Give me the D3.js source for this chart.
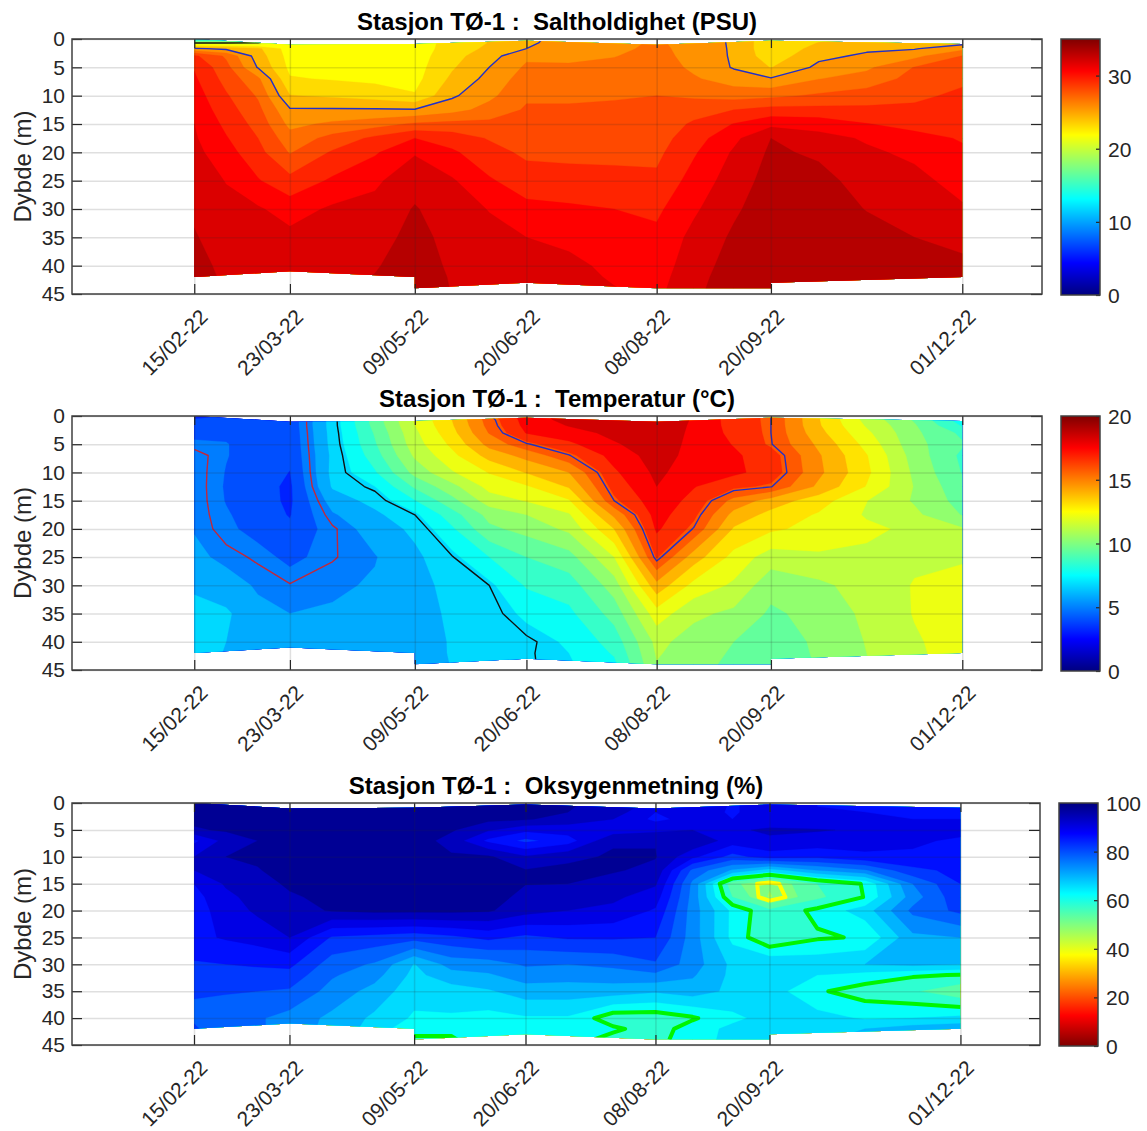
<!DOCTYPE html>
<html>
<head>
<meta charset="utf-8">
<style>
body { margin: 0; background: #fff; }
text { font-family: "Liberation Sans", Arial, sans-serif; fill: #262626; }
.title { font-weight: bold; fill: #000; white-space: pre; }
.grid line { stroke: #262626; stroke-opacity: 0.15; stroke-width: 1.5; }
.ticks line { stroke: #262626; stroke-width: 1.2; }
.box { fill: none; stroke: #404040; stroke-width: 1.5; }
</style>
<script src="https://cdn.jsdelivr.net/npm/d3@7"></script>
</head>
<body>
<script>
var parseDate = d3.timeParse("%d/%m-%y");

//dates on the x axis
var stationLabels = ["15/02-22", "23/03-22", "09/05-22", "20/06-22", "08/08-22", "20/09-22", "01/12-22"];

var sampleDates = ["15/02-22", "27/02-22", "11/03-22", "23/03-22", "08/04-22", "24/04-22", "09/05-22", "23/05-22", "06/06-22", "20/06-22",
    "06/07-22", "23/07-22", "08/08-22", "22/08-22", "06/09-22", "20/09-22", "08/10-22", "26/10-22", "13/11-22", "01/12-22"];

//rows of the value tables
var depths = [0, 0.7, 1.7, 3, 5, 7, 10, 12.5, 15, 17.5, 20, 25, 30, 35, 40, 42, 44];
var oxygenDepths = [0, 0.7, 1.7, 3, 5, 7, 10, 12.5, 15, 17.5, 20, 25, 30, 32, 35, 40, 42, 44];

//outline of the sampled water column, the bottom steps at two of the stations
var outlineDates = ["15/02-22", "23/03-22", "09/05-22", "09/05-22", "20/06-22", "08/08-22", "20/09-22", "20/09-22", "01/12-22"];
var outlineTop = [0, 1, 0.9, 0.9, 0.3, 1, 0.3, 0.3, 0.9];
var outlineBottom = [42, 41, 42, 44, 43, 44, 44, 43, 42];

//one row per sample date, one value per depth
var salinity = [
    [11, 20, 25.2, 29, 29.9, 30.2, 30.6, 30.9, 31.25, 31.4, 31.6, 31.95, 32.3, 32.6, 32.9, 33, 33],
    [12, 20, 24.7, 27.3, 27.9, 28.3, 28.9, 29.3, 29.7, 30.1, 30.5, 31.2, 31.6, 31.9, 32.2, 32.3, 32.4],
    [14.5, 20.1, 24, 24.4, 24.9, 26.5, 27.35, 27.85, 28.3, 28.75, 29.15, 30.1, 31.4, 31.8, 32.1, 32.2, 32.3],
    [21.8, 21.8, 21.9, 22, 22.2, 22.6, 23.8, 25.15, 25.9, 26.75, 27.4, 29.15, 30.7, 31.6, 32, 32.1, 32.2],
    [21.7, 21.7, 21.7, 21.8, 22.1, 22.4, 23.55, 25.15, 26.5, 27.9, 28.9, 30.2, 31.45, 31.8, 32.1, 32.2, 32.3],
    [21.7, 21.7, 21.7, 21.7, 21.9, 22.2, 23.2, 25.15, 26.95, 29.05, 29.85, 31.05, 31.6, 32, 32.4, 32.55, 32.7],
    [21.8, 21.8, 21.8, 21.9, 22, 22.1, 22.6, 25.1, 27.7, 30, 31.15, 32, 32.6, 32.9, 33.1, 33.15, 33.2],
    [23, 23, 23.1, 23.3, 23.6, 24, 24.8, 25.8, 27.9, 29.4, 30.2, 31.4, 31.8, 32.1, 32.3, 32.4, 32.45],
    [23.8, 23.8, 24, 24.5, 25, 25.4, 25.95, 26.7, 27.85, 28.65, 29.2, 30.15, 31.2, 31.6, 31.9, 32, 32.1],
    [24.7, 24.8, 25, 26, 26.45, 26.85, 27.3, 27.65, 28, 28.25, 28.5, 29.35, 30.35, 31.25, 31.6, 31.75, 31.9],
    [25.5, 25.5, 25.7, 26, 26.4, 26.8, 27.3, 27.65, 27.95, 28.2, 28.45, 29.2, 30.2, 30.9, 31.6, 31.7, 31.8],
    [25.6, 25.7, 25.9, 26.2, 26.6, 26.9, 27.4, 27.7, 27.95, 28.2, 28.45, 29.1, 30, 30.4, 30.9, 31.1, 31.3],
    [26.4, 26.5, 26.6, 26.7, 26.9, 27.15, 27.5, 27.75, 27.95, 28.2, 28.45, 29, 29.75, 30.3, 30.6, 30.75, 30.9],
    [25.6, 25.6, 25.7, 25.8, 26, 26.4, 27.3, 28.2, 28.95, 29.45, 29.85, 30.5, 31.05, 31.6, 31.95, 32.1, 32.2],
    [24.85, 24.85, 24.85, 24.85, 24.9, 25.6, 27, 28.75, 30.05, 30.95, 31.4, 31.85, 32.3, 32.7, 33, 33.1, 33.2],
    [22.8, 22.8, 22.8, 23, 23.7, 25.1, 27.2, 29.2, 30.9, 32.5, 32.7, 33, 33.2, 33.4, 33.5, 33.55, 33.6],
    [23.5, 23.8, 24.2, 24.7, 25.3, 26.2, 27.7, 29.15, 30.7, 31.7, 32.3, 32.9, 33.2, 33.4, 33.5, 33.55, 33.6],
    [24, 24.2, 24.8, 25.2, 26, 26.8, 28.05, 29.05, 30.05, 31.1, 31.45, 32, 32.45, 33, 33.3, 33.4, 33.5],
    [24.2, 24.4, 24.9, 25.9, 27.55, 27.9, 28.5, 29, 29.6, 30.4, 31, 31.6, 32, 32.5, 32.9, 33.05, 33.2],
    [24.2, 24.6, 25.9, 27.55, 28.05, 28.5, 29, 29.3, 29.6, 29.9, 30.2, 30.8, 31.4, 32.1, 32.8, 33, 33.1]
];

var temperature = [
    [3.3, 3.7, 3.9, 4.2, 4.7, 5.35, 5.36, 5.37, 5.37, 5.36, 5.35, 5.6, 6.2, 6.5, 6.6, 6.65, 6.7],
    [3.6, 3.9, 4.1, 4.3, 4.55, 4.55, 4.45, 4.4, 4.45, 4.6, 4.75, 5.2, 5.75, 6.45, 6.3, 6.25, 6.2],
    [3.6, 3.7, 3.8, 3.9, 4, 4, 3.95, 3.9, 3.95, 4, 4.1, 4.9, 5.3, 5.6, 5.9, 5.95, 6],
    [3.9, 3.9, 3.9, 3.85, 3.8, 3.75, 3.58, 3.45, 3.45, 3.55, 3.75, 4.2, 5.05, 5.4, 5.7, 5.75, 5.8],
    [6.7, 6.7, 6.7, 6.65, 6.6, 6.5, 6.55, 6.4, 5.8, 5.3, 4.9, 4.95, 5.25, 5.5, 5.65, 5.7, 5.7],
    [9.4, 9.4, 9.3, 9.1, 8.9, 8.6, 8, 7.2, 6.6, 6.1, 5.8, 5.35, 5.5, 5.6, 5.7, 5.75, 5.75],
    [11.8, 11.8, 11.7, 11.5, 11.3, 10.95, 10.2, 9.15, 8.05, 7, 6.5, 6.1, 5.9, 5.8, 5.7, 5.65, 5.6],
    [13.5, 13.5, 13.4, 13.2, 12.8, 12.35, 11.6, 10.5, 9.6, 8.6, 7.95, 6.95, 6.65, 6.5, 6.4, 6.4, 6.35],
    [15.9, 15.7, 15.6, 15.35, 14.7, 13.85, 12.65, 12, 11.25, 10.2, 9.7, 8.1, 7, 6.8, 6.75, 6.7, 6.7],
    [17.6, 17.5, 17.4, 17.15, 15.9, 14.7, 13.55, 12.5, 11.75, 10.8, 10.2, 9, 8.2, 7.35, 6.9, 6.95, 6.97],
    [18.4, 18.3, 18.05, 17.6, 16.9, 15.95, 14.4, 13.6, 12.5, 11.6, 11, 9.55, 8.55, 7.9, 7.3, 7.2, 7.1],
    [18.7, 18.6, 18.5, 18.25, 17.9, 17.45, 16.95, 16.55, 16, 14.6, 13.5, 11.7, 10.35, 9.35, 8.5, 8.2, 7.9],
    [18.7, 18.7, 18.65, 18.6, 18.5, 18.4, 18.2, 18, 17.7, 17.5, 17.25, 16.3, 14.1, 12.2, 11.05, 10.9, 10.75],
    [17.9, 17.9, 17.85, 17.8, 17.75, 17.7, 17.5, 17.15, 16.8, 16.4, 15.95, 13.95, 12.3, 11, 10.4, 10.3, 10.2],
    [16.7, 16.7, 16.75, 16.85, 17.05, 17.25, 17.3, 16.4, 15, 14.1, 13.4, 12.3, 11.55, 10.6, 9.9, 9.8, 9.7],
    [16, 16, 16, 16, 16.05, 16.6, 16.7, 16.05, 14, 13.2, 12.75, 11.25, 10.2, 9.75, 9.6, 9.55, 9.5],
    [13.55, 13.55, 13.6, 13.8, 14.2, 14.5, 14.6, 14.2, 13, 12.5, 12.3, 11.55, 10.6, 10.2, 10, 9.98, 9.95],
    [11.3, 11.4, 11.6, 11.9, 12.3, 12.65, 12.8, 12.55, 11.72, 11.6, 11.9, 11.5, 11.2, 11, 10.85, 10.8, 10.75],
    [9.7, 9.8, 10, 10.1, 10.2, 10.4, 10.6, 10.75, 10.7, 11, 11.5, 11.55, 11.75, 11.75, 11.6, 11.55, 11.5],
    [7.6, 7.6, 8, 8.8, 9.1, 8.8, 8.95, 9.25, 9.55, 9.85, 10.9, 11.65, 11.85, 12, 12.1, 12.1, 12.1]
];

var oxygen = [
    [97, 97, 97, 97, 95.5, 87, 92, 92, 88, 86.5, 86, 87, 83.5, 82, 80.2, 79.5, 80.5, 81.5],
    [97, 97, 97, 97, 96.5, 93.5, 96, 94, 92.5, 91, 90, 88.4, 84, 82.5, 80.5, 76.5, 77.5, 79],
    [97, 97, 97, 97, 96.5, 96, 96.5, 95.8, 94.5, 93.5, 92.7, 89.6, 84.5, 82.5, 80, 76.5, 76.5, 77],
    [97.5, 97.5, 97.5, 97.5, 97.5, 97.5, 97.5, 97.3, 96.6, 95.5, 94.5, 92, 85, 82.5, 79.5, 74.5, 74.5, 74.5],
    [98, 98, 98, 98, 98, 98, 98, 98, 97.5, 97, 96.3, 83.5, 78, 76.5, 74.5, 71, 70.5, 70],
    [98, 98, 98, 98, 98, 98, 98, 98, 98, 97.5, 97, 82.5, 75.5, 73.5, 70.5, 67.2, 66.5, 66],
    [98, 98, 98, 98, 98, 98, 98.3, 98.5, 98.5, 98, 97, 81.5, 67.8, 66.8, 65.5, 63.4, 60.6, 59.7],
    [98, 98, 97.8, 97.5, 96.5, 94.5, 96.5, 98, 98.3, 98, 97, 83, 73.5, 70.5, 66, 63.5, 60.2, 59.9],
    [98, 98, 97.5, 97, 92.5, 87, 96.6, 97, 98, 97.5, 96.5, 85, 74, 71.5, 67.5, 62.5, 61.5, 60.5],
    [97.5, 97.3, 97, 96.5, 89, 83, 92.5, 96.2, 96.1, 95, 93.5, 83, 76.5, 74, 70, 63.5, 62.5, 61.5],
    [96.5, 96.3, 96, 94, 90, 86, 95, 97, 96, 94, 92, 84.5, 76, 73.5, 70, 63.5, 62, 62],
    [95, 94.5, 94, 92, 89.5, 95.5, 96.5, 96.4, 94.5, 92.8, 91, 84.5, 77, 74, 70, 57.5, 60.8, 58.5],
    [90, 90, 88, 87, 91, 95.8, 96.2, 95, 92.5, 90, 87.5, 84, 79.5, 75, 68.5, 57.5, 58, 58.5],
    [91, 91, 90, 89.5, 92, 95.5, 89, 79, 75, 74.5, 74, 74, 74, 72.5, 70, 59.5, 62, 62.5],
    [87.5, 87.5, 87.5, 88, 91.5, 90, 82.5, 71.5, 53, 56, 63, 62.9, 67, 67, 67, 63, 65, 65],
    [90, 90, 90, 90, 92.5, 91.5, 86, 66, 48.5, 47.5, 57, 56, 67.5, 67, 66, 65.5, 65, 65],
    [88, 88, 88, 88.5, 92.3, 90.5, 85, 72, 56, 55, 61, 59.5, 66.5, 64, 60.6, 65.5, 66, 67],
    [87.5, 87.5, 88, 88.5, 91.5, 90, 87, 75.5, 60.4, 60.2, 66, 60.4, 68, 62.5, 58, 63.5, 68, 70.5],
    [87, 87, 87, 88, 90, 89, 87, 83, 76, 74, 77, 71, 69, 60.5, 56.5, 64, 70, 72],
    [86.5, 86.5, 87, 88, 90, 87, 85.5, 85, 84, 83, 81, 72, 68, 59.8, 53, 65, 71, 73]
];

var depthTicks = d3.range(0, 50, 5);

//one entry per panel: text, colour range, band step and the marked contours
var panels = [
    {title: "Stasjon TØ-1 :  Saltholdighet (PSU)", values: salinity, rows: depths, max: 35, step: 1.25, reversed: false,
     barTicks: [0, 10, 20, 30], lines: [{level: 25, color: "#2230c8", width: 1.4}, {level: 20, color: "#111", width: 1.4}],
     left: 72, right: 1042, top: 39, bottom: 294, barLeft: 1061, barRight: 1100, titleY: 30},
    {title: "Stasjon TØ-1 :  Temperatur (°C)", values: temperature, rows: depths, max: 20, step: 0.9, reversed: false,
     barTicks: [0, 5, 10, 15, 20], lines: [{level: 5, color: "#c0283c", width: 1.4}, {level: 7, color: "#111", width: 1.4}, {level: 16, color: "#2230c8", width: 1.4}],
     left: 72, right: 1042, top: 416, bottom: 670, barLeft: 1061, barRight: 1100, titleY: 407},
    {title: "Stasjon TØ-1 :  Oksygenmetning (%)", values: oxygen, rows: oxygenDepths, max: 100, step: 4, reversed: true,
     barTicks: [0, 20, 40, 60, 80, 100], lines: [{level: 60, color: "#00f500", width: 4}, {level: 50, color: "#ffff00", width: 4}],
     left: 72, right: 1040, top: 803, bottom: 1045, barLeft: 1059, barRight: 1098, titleY: 794}
];

window.onload = setChart();

//matlab style jet colormap, t from 0 to 1
function jet(t){
    function c(v){ return Math.round(255 * Math.max(0, Math.min(1, v))); }
    return d3.rgb(
        c(Math.min(4 * t - 1.5, -4 * t + 4.5)),
        c(Math.min(4 * t - 0.5, -4 * t + 3.5)),
        c(Math.min(4 * t + 0.5, -4 * t + 2.5))
    ).formatHex();
}

function setChart(){

    var svg = d3.select("body")
        .append("svg")
        .attr("width", 1147)
        .attr("height", 1131);

    var defs = svg.append("defs");

    panels.forEach(function(p, i){
        drawPanel(svg, defs, p, i);
    });
}

function drawPanel(svg, defs, p, index){

    var w = p.right - p.left,
        h = p.bottom - p.top;

    var x = d3.scaleTime()
        .domain([new Date(2021, 11, 31), new Date(2022, 11, 31)])
        .range([p.left, p.right]);

    var y = d3.scaleLinear()
        .domain([0, 45])
        .range([p.top, p.bottom]);

    var stations = stationLabels.map(parseDate);
    var sampleX = sampleDates.map(function(d){ return x(parseDate(d)); });
    var sampleY = p.rows.map(y);

    //contour grid cells have their sample in the middle, so i + 0.5 is sample i
    var gridX = d3.scaleLinear()
        .domain(sampleX.map(function(d, i){ return i + 0.5; }))
        .range(sampleX)
        .clamp(true);

    var gridY = d3.scaleLinear()
        .domain(sampleY.map(function(d, i){ return i + 0.5; }))
        .range(sampleY)
        .clamp(true);

    var path = d3.geoPath(d3.geoTransform({
        point: function(a, b){ this.stream.point(gridX(a), gridY(b)); }
    }));

    //flatten to row order for d3.contours
    var nx = sampleDates.length,
        ny = p.rows.length,
        flat = [];
    for (var j = 0; j < ny; j++){
        for (var i = 0; i < nx; i++){
            flat.push(p.values[i][j]);
        }
    }

    var contours = d3.contours().size([nx, ny]);

    function bandColor(level){
        var t = (level + p.step / 2) / p.max;
        return jet(p.reversed ? 1 - t : t);
    }

    //clip to the sampled water column
    var area = d3.area()
        .x(function(d){ return x(parseDate(d)); })
        .y0(function(d, i){ return y(outlineTop[i]); })
        .y1(function(d, i){ return y(outlineBottom[i]); });

    defs.append("clipPath")
        .attr("id", "water" + index)
        .append("path")
        .attr("d", area(outlineDates));

    var water = svg.append("g")
        .attr("clip-path", "url(#water" + index + ")");

    //filled bands, lowest first
    water.selectAll(".band")
        .data(d3.range(0, p.max, p.step))
        .enter()
        .append("path")
        .attr("class", "band")
        .attr("d", function(level){ return path(contours.contour(flat, level)); })
        .attr("fill", bandColor)
        .attr("stroke", bandColor)
        .attr("stroke-width", 0.3);

    //marked contour lines, without the parts that run along the edge of the grid
    var line = d3.line()
        .x(function(d){ return gridX(d[0]); })
        .y(function(d){ return gridY(d[1]); });

    p.lines.forEach(function(l){
        var pieces = [];
        contours.contour(flat, l.level).coordinates.forEach(function(polygon){
            polygon.forEach(function(ring){
                var piece = [];
                ring.forEach(function(pt){
                    if (pt[0] <= 0 || pt[0] >= nx || pt[1] <= 0 || pt[1] >= ny){
                        if (piece.length > 1) pieces.push(piece);
                        piece = [];
                    } else {
                        piece.push(pt);
                    }
                });
                if (piece.length > 1) pieces.push(piece);
            });
        });
        water.selectAll(null)
            .data(pieces)
            .enter()
            .append("path")
            .attr("d", line)
            .attr("fill", "none")
            .attr("stroke", l.color)
            .attr("stroke-width", l.width)
            .attr("stroke-linejoin", "round");
    });

    //grid lines above the fill
    svg.append("g")
        .attr("class", "grid")
        .attr("transform", "translate(0," + p.bottom + ")")
        .call(d3.axisBottom(x).tickValues(stations).tickSize(-h).tickFormat(""))
        .call(function(g){ g.select(".domain").remove(); });

    svg.append("g")
        .attr("class", "grid")
        .attr("transform", "translate(" + p.left + ",0)")
        .call(d3.axisLeft(y).tickValues(depthTicks).tickSize(-w).tickFormat(""))
        .call(function(g){ g.select(".domain").remove(); });

    //ticks point inwards on all four sides
    var bottomAxis = svg.append("g")
        .attr("class", "ticks")
        .attr("transform", "translate(0," + p.bottom + ")")
        .call(d3.axisBottom(x).tickValues(stations).tickSize(-10).tickFormat(d3.timeFormat("%d/%m-%y")));
    bottomAxis.select(".domain").remove();
    bottomAxis.selectAll("text")
        .attr("font-size", 21)
        .attr("text-anchor", "end")
        .attr("transform", "translate(9,19) rotate(-45)")
        .attr("x", 0)
        .attr("y", 0)
        .attr("dy", "0.35em");

    svg.append("g")
        .attr("class", "ticks")
        .attr("transform", "translate(0," + p.top + ")")
        .call(d3.axisTop(x).tickValues(stations).tickSize(-9).tickFormat(""))
        .select(".domain").remove();

    var leftAxis = svg.append("g")
        .attr("class", "ticks")
        .attr("transform", "translate(" + p.left + ",0)")
        .call(d3.axisLeft(y).tickValues(depthTicks).tickSize(-10).tickPadding(7));
    leftAxis.select(".domain").remove();
    leftAxis.selectAll("text").attr("font-size", 21);

    svg.append("g")
        .attr("class", "ticks")
        .attr("transform", "translate(" + p.right + ",0)")
        .call(d3.axisRight(y).tickValues(depthTicks).tickSize(-11).tickFormat(""))
        .select(".domain").remove();

    svg.append("rect")
        .attr("class", "box")
        .attr("x", p.left)
        .attr("y", p.top)
        .attr("width", w)
        .attr("height", h);

    svg.append("text")
        .attr("class", "title")
        .attr("x", (p.left + p.right) / 2)
        .attr("y", p.titleY)
        .attr("text-anchor", "middle")
        .attr("font-size", 24)
        .text(p.title);

    svg.append("text")
        .attr("transform", "translate(31," + (p.top + h / 2) + ") rotate(-90)")
        .attr("text-anchor", "middle")
        .attr("font-size", 24)
        .text("Dybde (m)");

    //colorbar
    var bar = d3.scaleLinear()
        .domain([0, p.max])
        .range([p.bottom + 1, p.top]);

    var gradient = defs.append("linearGradient")
        .attr("id", "bar" + index)
        .attr("x1", 0).attr("y1", 1)
        .attr("x2", 0).attr("y2", 0);

    gradient.selectAll("stop")
        .data(d3.range(0, 1.0001, 1 / 64))
        .enter()
        .append("stop")
        .attr("offset", function(d){ return d; })
        .attr("stop-color", function(d){ return jet(p.reversed ? 1 - d : d); });

    svg.append("rect")
        .attr("x", p.barLeft)
        .attr("y", p.top)
        .attr("width", p.barRight - p.barLeft)
        .attr("height", h + 1)
        .attr("fill", "url(#bar" + index + ")");

    var barAxis = svg.append("g")
        .attr("class", "ticks")
        .attr("transform", "translate(" + p.barRight + ",0)")
        .call(d3.axisRight(bar).tickValues(p.barTicks).tickSize(-4).tickPadding(8).tickFormat(d3.format("d")));
    barAxis.select(".domain").remove();
    barAxis.selectAll("text").attr("font-size", 21).attr("dy", "0.36em");

    svg.append("rect")
        .attr("class", "box")
        .attr("x", p.barLeft)
        .attr("y", p.top)
        .attr("width", p.barRight - p.barLeft)
        .attr("height", h + 1);
}
</script>
</body>
</html>
